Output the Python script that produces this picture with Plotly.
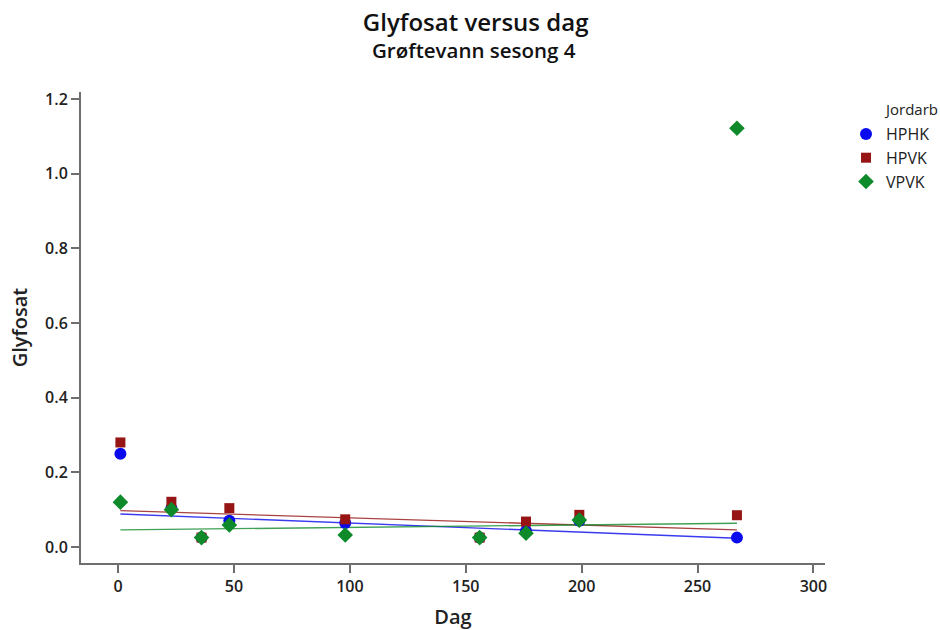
import plotly.graph_objects as go
import numpy as np

days = [1, 23, 36, 48, 98, 156, 176, 199, 267]
hphk = [0.250, 0.104, 0.025, 0.070, 0.064, 0.025, 0.043, 0.070, 0.025]
hpvk = [0.280, 0.121, 0.025, 0.104, 0.074, 0.025, 0.068, 0.086, 0.085]
vpvk = [0.120, 0.100, 0.025, 0.059, 0.032, 0.025, 0.037, 0.072, 1.122]

groups = ["HPHK", "HPVK", "VPVK"]
series = [hphk, hpvk, vpvk]
# fitted line parameters (intercept, slope) as shown in the chart
fit_intercept = [0.0885, 0.0975, 0.0455]
fit_slope = [-0.000244, -0.000194, 0.0000675]

colors = ["#0A0AEE", "#961414", "#0E8A2A"]
symbols = ["circle", "square", "diamond"]
sizes = [12, 10, 12]

font = "Open Sans, Noto Sans, DejaVu Sans, sans-serif"

fig = go.Figure()
xf = np.array([min(days), max(days)])
for g, ys, c, b0, b1 in zip(groups, series, colors, fit_intercept, fit_slope):
    fig.add_trace(go.Scatter(x=xf, y=b0 + b1 * xf, mode="lines",
                             line=dict(color=c, width=1.3), opacity=0.8,
                             showlegend=False, hoverinfo="skip"))
for g, ys, c, s, sz in zip(groups, series, colors, symbols, sizes):
    fig.add_trace(go.Scatter(x=days, y=ys, mode="markers", name=g,
                             marker=dict(color=c, symbol=s, size=sz)))

axis_common = dict(showgrid=False, zeroline=False, showline=True, linecolor="#6E6E6E",
                   linewidth=2, ticks="outside", ticklen=8, tickcolor="#6E6E6E",
                   tickwidth=1.5, automargin=False,
                   tickfont=dict(size=16, weight=600, color="#222222"))

fig.update_layout(
    width=940, height=630,
    margin=dict(l=81, r=115, t=92, b=67),
    paper_bgcolor="white", plot_bgcolor="white",
    font=dict(family=font, color="#222222", size=15),
    title=dict(text="Glyfosat versus dag", xref="container", x=0.506, xanchor="center",
               yref="container", y=1 - 23 / 630, yanchor="middle",
               font=dict(size=24, weight=600, family=font, color="#111111")),
    xaxis=dict(range=[-16, 305], tickvals=[0, 50, 100, 150, 200, 250, 300],
               title=dict(text="Dag", font=dict(size=20, weight=600), standoff=14),
               **axis_common),
    yaxis=dict(range=[-0.043, 1.219], tickvals=[0, 0.2, 0.4, 0.6, 0.8, 1.0, 1.2],
               tickformat=".1f",
               title=dict(text="Glyfosat", font=dict(size=20, weight=600), standoff=12),
               **axis_common),
    legend=dict(xref="container", x=935 / 940, xanchor="right",
                yref="container", y=1 - 117 / 630, yanchor="top",
                font=dict(size=16, color="#222222"), itemwidth=30, tracegroupgap=0,
                bgcolor="rgba(0,0,0,0)"),
    annotations=[
        dict(text="Grøftevann sesong 4", xref="paper", yref="paper",
             x=(474 - 81) / 744, y=(563 - 50) / 471, xanchor="center", yanchor="middle",
             showarrow=False, font=dict(size=20.5, weight=600, family=font, color="#111111")),
        dict(text="Jordarb", xref="paper", yref="paper",
             x=(882 - 81) / 744, y=(563 - 109) / 471, xanchor="left", yanchor="middle",
             showarrow=False, font=dict(size=15, family=font, color="#222222")),
    ],
)

fig.write_html("out.html")
